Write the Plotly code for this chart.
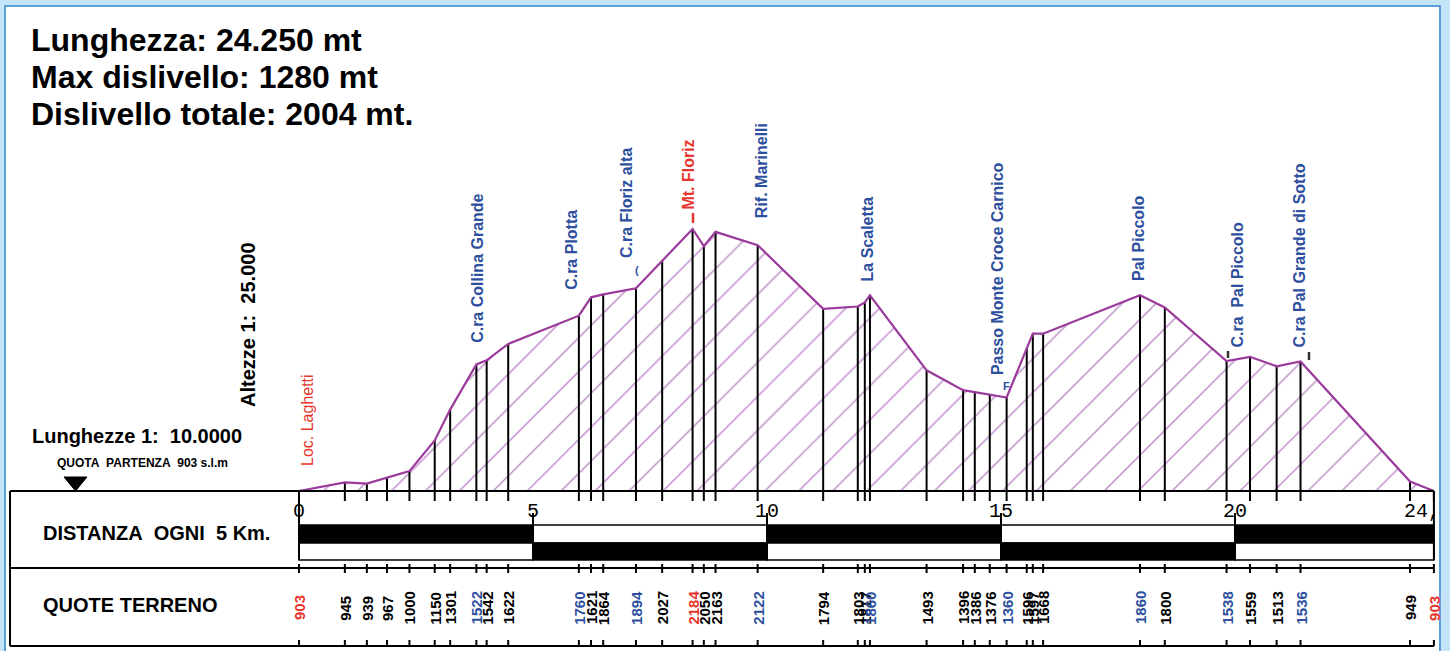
import plotly.graph_objects as go

# ---------------- data ----------------
stazioni_km = [0.00, 0.98, 1.45, 1.88, 2.36, 2.90, 3.23, 3.79, 4.01, 4.47,
               5.98, 6.24, 6.50, 7.20, 7.76, 8.41, 8.65, 8.90, 9.80, 11.20,
               11.94, 12.09, 12.20, 13.41, 14.19, 14.44, 14.76, 15.12, 15.55, 15.68,
               15.90, 17.97, 18.50, 19.82, 20.32, 20.89, 21.40, 23.74, 24.25]

quote_etichette = ["903", "945", "939", "967", "1000", "1150", "1301", "1522", "1542", "1622",
                   "1760", "1621", "1864", "1894", "2027", "2184", "2050", "2163", "2122", "1794",
                   "1803", "1817", "1860", "1493", "1396", "1386", "1376", "1360", "1596", "1597",
                   "1668", "1860", "1800", "1538", "1559", "1513", "1536", "949", "903"]

# heights of the drawn profile at each station (m)
quota_profilo = [903, 945, 939, 967, 1000, 1150, 1301, 1522, 1542, 1622,
                 1760, 1850, 1864, 1894, 2027, 2184, 2100, 2170, 2105, 1794,
                 1805, 1825, 1860, 1493, 1396, 1386, 1376, 1360, 1600, 1672,
                 1672, 1860, 1800, 1538, 1559, 1513, 1536, 949, 903]

# r = red, b = blue, k = black label in "QUOTE TERRENO"
tipo_stazione = ["r", "k", "k", "k", "k", "k", "k", "b", "k", "k",
                 "b", "k", "k", "b", "k", "r", "k", "k", "b", "k",
                 "k", "k", "b", "k", "k", "k", "k", "b", "k", "k",
                 "k", "b", "k", "b", "k", "k", "b", "k", "r"]

luoghi = ["Loc. Laghetti", "C.ra Collina Grande", "C.ra Plotta", "C.ra Floriz alta",
          "Mt. Floriz", "Rif. Marinelli", "La Scaletta", "Passo Monte Croce Carnico",
          "Pal Piccolo", "C.ra\u00a0 Pal Piccolo", "C.ra Pal Grande di Sotto"]
luoghi_stazione = [0, 7, 10, 13, 15, 18, 22, 27, 31, 33, 36]
luoghi_tipo = ["r", "b", "b", "b", "r", "b", "b", "b", "b", "b", "b"]

distanze_km = [0, 5, 10, 15, 20, 24.25]
distanze_etichette = ["0", "5", "10", "15", "20", "24,"]

testi_info = ["Lunghezza: 24.250 mt", "Max dislivello: 1280 mt", "Dislivello totale: 2004 mt."]

# ---------------- geometry / style ----------------
W, H = 1450, 651
KM_PX, KM0_PX = 46.8, 299.0
M_PX, BASE_PX, BASE_M = 0.20453, 491.0, 903.0
COL = {"r": "#e6352c", "b": "#2d4f9e", "k": "#000000"}
PURPLE = "#9a3a9b"
FONT = "Liberation Sans, Arial, sans-serif"

# label placement (pixel offsets / bottoms) for the place names
luoghi_dx = [8, 1, -8, -10, -5, 4, -2, -9, -2, 10, -2]
luoghi_bottom = [468, 345, 292, 260, 212, 220, 283, 377, 283, 350, 350]

fig = go.Figure()

# hatched profile
fig.add_trace(go.Scatter(
    x=stazioni_km, y=quota_profilo, mode="lines", fill="toself",
    fillcolor="white",
    fillpattern=dict(shape="/", size=24, solidity=0.065, fgcolor="#7e2492", bgcolor="white"),
    line=dict(width=0, color="rgba(0,0,0,0)"), hoverinfo="skip", showlegend=False))

# vertical station lines
vx, vy = [], []
for k, h in zip(stazioni_km[1:-1], quota_profilo[1:-1]):
    vx += [k, k, None]
    vy += [BASE_M, h, None]
fig.add_trace(go.Scatter(x=vx, y=vy, mode="lines", line=dict(color="black", width=2),
                         hoverinfo="skip", showlegend=False))

# profile line
fig.add_trace(go.Scatter(x=stazioni_km, y=quota_profilo, mode="lines",
                         line=dict(color=PURPLE, width=2.2), hoverinfo="skip", showlegend=False))

# ticks on baseline and on the "quote terreno" row (pixel y axis)
tx, ty = [], []
for k in stazioni_km:
    for a, b in [(491, 501), (564, 573), (640, 646)]:
        tx += [k, k, None]
        ty += [a, b, None]
fig.add_trace(go.Scatter(x=tx, y=ty, yaxis="y2", mode="lines",
                         line=dict(color="black", width=2), hoverinfo="skip", showlegend=False))

shapes = []
# white panel with blue border
shapes.append(dict(type="rect", xref="x2", yref="y2", x0=5, x1=1440, y0=6, y1=700,
                   fillcolor="white", line=dict(color="#5e9fd8", width=2), layer="below"))
# table frame
for (x0, y0, x1, y1) in [(10, 491, 1434, 491), (10, 568, 1434, 568), (10, 646, 1434, 646), (10, 491, 10, 646)]:
    shapes.append(dict(type="line", xref="x2", yref="y2", x0=x0, y0=y0, x1=x1, y1=y1,
                       line=dict(color="black", width=2)))
# km scale bar
for i in range(len(distanze_km) - 1):
    a, b = distanze_km[i], distanze_km[i + 1]
    top_black = (i % 2 == 0)
    shapes.append(dict(type="rect", xref="x", yref="y2", x0=a, x1=b, y0=525, y1=543,
                       fillcolor="black" if top_black else "white", line=dict(color="black", width=1.5)))
    shapes.append(dict(type="rect", xref="x", yref="y2", x0=a, x1=b, y0=543, y1=560,
                       fillcolor="white" if top_black else "black", line=dict(color="black", width=1.5)))
for d in distanze_km:
    y0 = 491 if d in (distanze_km[0], distanze_km[-1]) else 513
    shapes.append(dict(type="line", xref="x", yref="y2", x0=d, x1=d, y0=y0, y1=560,
                       line=dict(color="black", width=2)))
# start marker triangle
shapes.append(dict(type="path", xref="x2", yref="y2",
                   path="M 64 477 L 87 477 L 75.5 491 Z", fillcolor="black", line=dict(color="black", width=1)))
# small marks next to some place names
for (px, y0, y1, c) in [(693, 213, 223, COL["r"]), (1228, 351, 358, "#333333"), (1309, 352, 360, "#333333")]:
    shapes.append(dict(type="line", xref="x2", yref="y2", x0=px, x1=px, y0=y0, y1=y1,
                       line=dict(color=c, width=2.5)))

ann = []
# info text
for i, t in enumerate(testi_info):
    ann.append(dict(xref="x2", yref="y2", x=29, y=40 + 37 * i, text="<b>%s</b>" % t, showarrow=False,
                    xanchor="left", yanchor="middle", font=dict(family=FONT, size=32, color="black")))
ann.append(dict(xref="x2", yref="y2", x=248, y=325, text="<b>Altezze 1:\u00a0 25.000</b>", textangle=-90,
                showarrow=False, xanchor="center", yanchor="middle", font=dict(family=FONT, size=20, color="black")))
ann.append(dict(xref="x2", yref="y2", x=30, y=436, text="<b>Lunghezze 1:\u00a0 10.0000</b>",
                showarrow=False, xanchor="left", yanchor="middle", font=dict(family=FONT, size=20, color="black")))
ann.append(dict(xref="x2", yref="y2", x=55, y=463, text="<b>QUOTA\u00a0 PARTENZA\u00a0 903 s.l.m</b>",
                showarrow=False, xanchor="left", yanchor="middle", font=dict(family=FONT, size=12, color="black")))
ann.append(dict(xref="x2", yref="y2", x=41, y=533, text="<b>DISTANZA\u00a0 OGNI\u00a0 5 Km.</b>",
                showarrow=False, xanchor="left", yanchor="middle", font=dict(family=FONT, size=20, color="black")))
ann.append(dict(xref="x2", yref="y2", x=41, y=605, text="<b>QUOTE TERRENO</b>",
                showarrow=False, xanchor="left", yanchor="middle", font=dict(family=FONT, size=20, color="black")))

# km labels
for d, lab in zip(distanze_km, distanze_etichette):
    xd = d if d != distanze_km[-1] else 24.0
    ann.append(dict(xref="x", yref="y2", x=xd, y=511, text=lab, showarrow=False,
                    xanchor="center", yanchor="middle",
                    font=dict(family="Liberation Mono, DejaVu Sans Mono, monospace", size=20, color="black")))

# elevation labels
for k, lab, t in zip(stazioni_km, quote_etichette, tipo_stazione):
    ann.append(dict(xref="x", yref="y2", x=k, y=608, text="<b>%s</b>" % lab, textangle=-90,
                    showarrow=False, xanchor="center", yanchor="middle",
                    font=dict(family=FONT, size=15, color=COL[t])))

# place names
for name, si, t, dx, yb in zip(luoghi, luoghi_stazione, luoghi_tipo, luoghi_dx, luoghi_bottom):
    txt = name if si == 0 else "<b>%s</b>" % name
    ann.append(dict(xref="x", yref="y2", x=stazioni_km[si], y=yb, xshift=dx, text=txt, textangle=-90,
                    showarrow=False, xanchor="center", yanchor="bottom",
                    font=dict(family=FONT, size=16, color=COL[t])))

# small glyph marks
for (px, py, s, c) in [(637, 270, "(", COL["b"]), (1006, 386, "F", COL["b"])]:
    ann.append(dict(xref="x2", yref="y2", x=px, y=py, text="<b>%s</b>" % s, showarrow=False,
                    xanchor="center", yanchor="middle", font=dict(family=FONT, size=11, color=c)))

fig.update_layout(
    width=W, height=H, autosize=False,
    margin=dict(l=0, r=0, t=0, b=0, pad=0),
    paper_bgcolor="#c4e4f7", plot_bgcolor="rgba(0,0,0,0)",
    showlegend=False,
    xaxis=dict(range=[-KM0_PX / KM_PX, (W - KM0_PX) / KM_PX], domain=[0, 1], visible=False, fixedrange=True),
    yaxis=dict(range=[BASE_M - (H - BASE_PX) / M_PX, BASE_M + BASE_PX / M_PX], domain=[0, 1],
               visible=False, fixedrange=True),
    xaxis2=dict(range=[0, W], overlaying="x", visible=False, fixedrange=True),
    yaxis2=dict(range=[H, 0], overlaying="y", visible=False, fixedrange=True),
    shapes=shapes, annotations=ann,
)

fig.write_html("out.html", config={"displayModeBar": False, "staticPlot": True},
               post_script="document.body.style.margin='0';document.body.style.overflow='hidden';")
